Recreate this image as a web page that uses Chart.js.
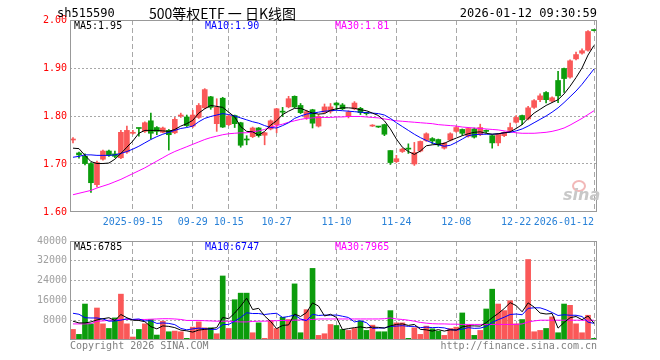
<!DOCTYPE html>
<html>
<head>
<meta charset="utf-8">
<title>sh515590 日K线图</title>
<script src="https://cdn.jsdelivr.net/npm/chart.js@4.4.1/dist/chart.umd.min.js"></script>
<style>
  body { margin: 0; background: #fff; }
  #wrap { position: relative; width: 660px; height: 360px; overflow: hidden;
          font-family: "DejaVu Sans Mono", monospace; font-size: 10px; color: #000; }
  canvas { position: absolute; left: 0; }
  #priceChart { top: 0; }
  #volumeChart { top: 232px; }
  .txt { position: absolute; line-height: 12px; white-space: pre; }
  .head { font-size: 12px; line-height: 14px; }
  .title { font-family: "Noto Sans CJK SC", sans-serif; font-size: 14px; line-height: 18px; }
  .grey { color: #808080; }
  .blue { color: #0000ff; }
  .pink { color: #ff00ff; }
  #logo { position: absolute; left: 563px; top: 186px; color: #c8c8c8; font-family: "DejaVu Sans", sans-serif;
          font-size: 16px; font-weight: bold; font-style: italic; line-height: 18px; }
  #logoEye { position: absolute; left: 572px; top: 180px; width: 10px; height: 8px; border: 2px solid #f2b8b8;
             border-radius: 50%; }
</style>
</head>
<body>
<div id="wrap">
  <canvas id="priceChart" width="660" height="232"></canvas>
  <canvas id="volumeChart" width="660" height="128"></canvas>

  <div class="txt head" style="left:57px; top:6px;">sh515590</div>
  <div class="txt title" style="left:149px; top:4px;">500等权ETF 一 日K线图</div>
  <div class="txt head" style="right:63px; top:6px;">2026-01-12 09:30:59</div>

  <div class="txt" style="left:74px; top:20px;" id="ma5Label"></div>
  <div class="txt blue" style="left:205px; top:20px;" id="ma10Label"></div>
  <div class="txt pink" style="left:335px; top:20px;" id="ma30Label"></div>

  <div class="txt" style="left:74px; top:241px;" id="vma5Label"></div>
  <div class="txt blue" style="left:205px; top:241px;" id="vma10Label"></div>
  <div class="txt pink" style="left:335px; top:241px;" id="vma30Label"></div>

  <div id="logoEye"></div>
  <div id="logo">sina</div>

  <div class="txt grey" style="left:70px; top:340px;">Copyright 2026 SINA.COM</div>
  <div class="txt grey" style="right:63px; top:340px;">http://finance.sina.com.cn</div>
</div>

<script>
const dates = [
  "2025-09-01", "2025-09-02", "2025-09-03", "2025-09-04", "2025-09-05", "2025-09-08", "2025-09-09", "2025-09-10", "2025-09-11", "2025-09-12",
  "2025-09-15", "2025-09-16", "2025-09-17", "2025-09-18", "2025-09-19", "2025-09-22", "2025-09-23", "2025-09-24", "2025-09-25", "2025-09-26",
  "2025-09-29", "2025-09-30", "2025-10-09", "2025-10-10", "2025-10-13", "2025-10-14", "2025-10-15", "2025-10-16", "2025-10-17", "2025-10-20",
  "2025-10-21", "2025-10-22", "2025-10-23", "2025-10-24", "2025-10-27", "2025-10-28", "2025-10-29", "2025-10-30", "2025-10-31", "2025-11-03",
  "2025-11-04", "2025-11-05", "2025-11-06", "2025-11-07", "2025-11-10", "2025-11-11", "2025-11-12", "2025-11-13", "2025-11-14", "2025-11-17",
  "2025-11-18", "2025-11-19", "2025-11-20", "2025-11-21", "2025-11-24", "2025-11-25", "2025-11-26", "2025-11-27", "2025-11-28", "2025-12-01",
  "2025-12-02", "2025-12-03", "2025-12-04", "2025-12-05", "2025-12-08", "2025-12-09", "2025-12-10", "2025-12-11", "2025-12-12", "2025-12-15",
  "2025-12-16", "2025-12-17", "2025-12-18", "2025-12-19", "2025-12-22", "2025-12-23", "2025-12-24", "2025-12-25", "2025-12-26", "2025-12-29",
  "2025-12-30", "2025-12-31", "2026-01-05", "2026-01-06", "2026-01-07", "2026-01-08", "2026-01-09", "2026-01-12"
];

const tickDates = ["2025-09-15", "2025-09-29", "2025-10-15", "2025-10-27", "2025-11-10", "2025-11-24", "2025-12-08", "2025-12-22", "2026-01-12"];
const tickTexts = ["2025-09-15", "09-29", "10-15", "10-27", "11-10", "11-24", "12-08", "12-22", "2026-01-12"];

const open = [
  1.750, 1.723, 1.716, 1.701, 1.657, 1.710, 1.727, 1.721, 1.713, 1.725,
  1.764, 1.775, 1.768, 1.790, 1.776, 1.766, 1.770, 1.765, 1.800, 1.798,
  1.779, 1.797, 1.817, 1.840, 1.784, 1.837, 1.782, 1.801, 1.786, 1.751,
  1.757, 1.775, 1.760, 1.773, 1.782, 1.809, 1.819, 1.841, 1.822, 1.797,
  1.813, 1.779, 1.808, 1.810, 1.827, 1.823, 1.799, 1.815, 1.816, 1.806,
  1.779, 1.778, 1.782, 1.728, 1.705, 1.726, 1.732, 1.700, 1.727, 1.749,
  1.753, 1.751, 1.733, 1.750, 1.768, 1.772, 1.758, 1.773, 1.761, 1.769,
  1.759, 1.744, 1.759, 1.770, 1.787, 1.801, 1.794, 1.818, 1.834, 1.849,
  1.831, 1.874, 1.899, 1.881, 1.919, 1.931, 1.937, 1.979
];
const high = [
  1.755, 1.725, 1.721, 1.703, 1.706, 1.729, 1.729, 1.727, 1.770, 1.779,
  1.770, 1.775, 1.788, 1.806, 1.778, 1.777, 1.772, 1.797, 1.806, 1.802,
  1.812, 1.826, 1.857, 1.841, 1.836, 1.839, 1.802, 1.802, 1.787, 1.759,
  1.777, 1.776, 1.766, 1.792, 1.816, 1.818, 1.841, 1.842, 1.826, 1.812,
  1.814, 1.803, 1.825, 1.826, 1.828, 1.826, 1.811, 1.830, 1.818, 1.808,
  1.782, 1.778, 1.783, 1.728, 1.718, 1.733, 1.742, 1.745, 1.748, 1.765,
  1.755, 1.752, 1.745, 1.765, 1.779, 1.773, 1.776, 1.775, 1.783, 1.771,
  1.760, 1.763, 1.767, 1.785, 1.801, 1.802, 1.820, 1.834, 1.846, 1.851,
  1.840, 1.893, 1.900, 1.917, 1.933, 1.940, 1.978, 1.979
];
const low = [
  1.744, 1.712, 1.698, 1.641, 1.652, 1.708, 1.716, 1.713, 1.711, 1.722,
  1.762, 1.758, 1.766, 1.752, 1.761, 1.765, 1.729, 1.763, 1.797, 1.778,
  1.776, 1.795, 1.815, 1.814, 1.768, 1.776, 1.780, 1.776, 1.735, 1.740,
  1.755, 1.756, 1.740, 1.771, 1.765, 1.799, 1.817, 1.817, 1.805, 1.793,
  1.775, 1.777, 1.806, 1.806, 1.813, 1.813, 1.796, 1.813, 1.803, 1.802,
  1.778, 1.776, 1.759, 1.699, 1.703, 1.724, 1.722, 1.697, 1.725, 1.747,
  1.742, 1.737, 1.731, 1.748, 1.766, 1.760, 1.756, 1.754, 1.759, 1.765,
  1.733, 1.738, 1.757, 1.768, 1.785, 1.782, 1.792, 1.816, 1.830, 1.827,
  1.829, 1.828, 1.849, 1.879, 1.917, 1.929, 1.935, 1.977
];
const close = [
  1.751, 1.719, 1.701, 1.661, 1.703, 1.727, 1.718, 1.716, 1.766, 1.770,
  1.765, 1.774, 1.786, 1.764, 1.768, 1.775, 1.761, 1.793, 1.801, 1.780,
  1.802, 1.822, 1.855, 1.818, 1.818, 1.777, 1.800, 1.784, 1.739, 1.750,
  1.775, 1.759, 1.765, 1.790, 1.815, 1.808, 1.836, 1.819, 1.807, 1.809,
  1.785, 1.799, 1.819, 1.819, 1.823, 1.815, 1.808, 1.827, 1.807, 1.805,
  1.780, 1.777, 1.762, 1.703, 1.711, 1.731, 1.731, 1.724, 1.747, 1.763,
  1.748, 1.740, 1.743, 1.763, 1.776, 1.764, 1.774, 1.756, 1.776, 1.768,
  1.744, 1.762, 1.766, 1.776, 1.797, 1.792, 1.817, 1.832, 1.842, 1.834,
  1.838, 1.842, 1.878, 1.915, 1.928, 1.936, 1.976, 1.978
];

const ma5 = [
  1.733, 1.732, 1.718, 1.705, 1.701, 1.701, 1.702, 1.710, 1.722, 1.735,
  1.748, 1.764, 1.770, 1.770, 1.770, 1.769, 1.768, 1.772, 1.779, 1.784,
  1.791, 1.806, 1.815, 1.822, 1.820, 1.818, 1.808, 1.798, 1.778, 1.768,
  1.767, 1.760, 1.768, 1.781, 1.790, 1.803, 1.810, 1.816, 1.816, 1.811,
  1.806, 1.804, 1.805, 1.812, 1.815, 1.817, 1.817, 1.816, 1.813, 1.811,
  1.806, 1.801, 1.790, 1.773, 1.752, 1.735, 1.726, 1.720, 1.727, 1.738,
  1.740, 1.741, 1.743, 1.749, 1.754, 1.759, 1.763, 1.766, 1.767, 1.764,
  1.762, 1.763, 1.765, 1.767, 1.774, 1.782, 1.795, 1.806, 1.814, 1.822,
  1.828, 1.834, 1.846, 1.862, 1.880, 1.900, 1.927, 1.947
];
const ma10 = [
  1.714, 1.716, 1.719, 1.719, 1.718, 1.718, 1.718, 1.719, 1.722, 1.726,
  1.731, 1.737, 1.744, 1.751, 1.757, 1.762, 1.766, 1.770, 1.774, 1.776,
  1.779, 1.788, 1.795, 1.799, 1.802, 1.805, 1.803, 1.800, 1.796, 1.792,
  1.788, 1.785, 1.780, 1.776, 1.775, 1.780, 1.786, 1.795, 1.800, 1.804,
  1.806, 1.808, 1.810, 1.811, 1.812, 1.811, 1.810, 1.809, 1.808, 1.807,
  1.806, 1.805, 1.802, 1.795, 1.786, 1.778, 1.770, 1.762, 1.755, 1.749,
  1.744, 1.740, 1.737, 1.739, 1.745, 1.752, 1.759, 1.761, 1.762, 1.762,
  1.762, 1.763, 1.765, 1.766, 1.769, 1.773, 1.779, 1.786, 1.793, 1.800,
  1.808, 1.817, 1.828, 1.840, 1.852, 1.866, 1.882, 1.898
];
const ma30 = [
  1.636, 1.639, 1.642, 1.645, 1.650, 1.654, 1.658, 1.663, 1.668, 1.674,
  1.680, 1.686, 1.692, 1.699, 1.706, 1.713, 1.720, 1.726, 1.731, 1.736,
  1.741, 1.746, 1.751, 1.755, 1.758, 1.761, 1.763, 1.764, 1.765, 1.765,
  1.767, 1.769, 1.772, 1.776, 1.780, 1.783, 1.787, 1.790, 1.793, 1.795,
  1.796, 1.797, 1.797, 1.797, 1.798, 1.798, 1.799, 1.799, 1.799, 1.798,
  1.797, 1.796, 1.794, 1.792, 1.790, 1.789, 1.788, 1.787, 1.786, 1.785,
  1.784, 1.782, 1.781, 1.780, 1.779, 1.777, 1.776, 1.775, 1.774, 1.773,
  1.772, 1.771, 1.769, 1.767, 1.765, 1.764, 1.764, 1.764, 1.765, 1.766,
  1.768, 1.771, 1.775, 1.781, 1.788, 1.795, 1.803, 1.811
];

const volume = [
  4270, 2270, 14530, 6530, 12930, 6530, 4670, 8930, 18530, 6530,
  1200, 4270, 6530, 8270, 2000, 7600, 3330, 3600, 3330, 670,
  5200, 7330, 4930, 4930, 2530, 25870, 4670, 16270, 18930, 18930,
  2930, 6930, 670, 7870, 4670, 9200, 8270, 22670, 2930, 12270,
  28930, 1870, 2530, 6270, 5870, 4270, 3870, 4670, 7600, 3870,
  6000, 3330, 3330, 11870, 6930, 6930, 670, 4930, 2270, 5600,
  4530, 3600, 1870, 4670, 5200, 10930, 6000, 1870, 3870, 12530,
  20530, 14530, 11870, 15870, 6530, 8270, 32530, 3330, 3870, 4670,
  9330, 2930, 14530, 14000, 6530, 2930, 10000, 670
];
const volMa5 = [
  7600, 6900, 6900, 7300, 8100, 8600, 9000, 7900, 10300, 9000,
  8000, 7900, 7400, 5400, 4500, 5700, 5500, 5000, 4000, 3700,
  3200, 4000, 4300, 4600, 5000, 9100, 8600, 10900, 13700, 16900,
  12300, 12800, 9700, 7500, 4600, 5900, 6100, 10500, 9500, 11100,
  15000, 13700, 9700, 10400, 9100, 4200, 4600, 5000, 5300, 4900,
  5200, 5100, 4800, 5700, 6300, 6500, 5900, 6300, 4300, 4100,
  3600, 4200, 3600, 4100, 4000, 5300, 5700, 5700, 5600, 7000,
  9000, 10700, 12700, 15100, 13900, 11400, 15000, 13300, 10900, 10500,
  10700, 4800, 7100, 9000, 9500, 8200, 9700, 6785
];
const volMa10 = [
  10800, 10400, 9000, 8900, 8900, 8500, 7600, 7700, 8000, 8600,
  8300, 8500, 7700, 7800, 6700, 6900, 6700, 6200, 4700, 4100,
  4500, 4800, 4600, 4300, 4300, 6200, 6300, 7600, 9100, 11000,
  10700, 10700, 10300, 10600, 10800, 9100, 9500, 10100, 8500, 7800,
  10400, 9900, 10100, 10000, 10100, 9600, 9100, 7300, 7800, 7000,
  4700, 4800, 4900, 5500, 5600, 5800, 5500, 5500, 5000, 5200,
  5000, 5100, 4900, 4200, 4000, 4400, 5000, 4700, 4800, 5500,
  7100, 8200, 9200, 10300, 10500, 10200, 12800, 13000, 13000, 12200,
  11100, 9900, 10200, 10000, 10000, 9500, 7200, 6747
];
const volMa30 = [
  6500, 6500, 6500, 6600, 7600, 7700, 8000, 8100, 8300, 8300,
  8300, 8300, 8300, 8400, 8500, 8600, 8600, 8500, 8300, 7900,
  7900, 7900, 7800, 7700, 7600, 7600, 7600, 7400, 7300, 7300,
  7500, 7600, 7600, 7700, 7800, 7900, 7900, 8000, 8100, 8200,
  8300, 8500, 8500, 8500, 8500, 8500, 8500, 8500, 8500, 8500,
  8500, 8500, 8600, 8900, 8500, 8300, 8000, 7600, 7100, 6800,
  6600, 6500, 6500, 6400, 6400, 6300, 6300, 6300, 6300, 6300,
  6300, 6300, 6300, 6300, 6300, 6500, 7300, 7700, 8000, 8000,
  8000, 8000, 8000, 8000, 8000, 8000, 8000, 7965
];

const RED = "#fa5858";
const GREEN = "#0c9c0c";
const GRID = "#a8a8a8";
const FRAME = "#999999";
const MONO = "DejaVu Sans Mono";

const candleColor = close.map((c, i) => (c >= open[i] ? RED : GREEN));
const last = dates.length - 1;

document.querySelector("#ma5Label").textContent = `MA5:${ma5[last].toFixed(2)}`;
document.querySelector("#ma10Label").textContent = `MA10:${ma10[last].toFixed(2)}`;
document.querySelector("#ma30Label").textContent = `MA30:${ma30[last].toFixed(2)}`;
document.querySelector("#vma5Label").textContent = `MA5:${volMa5[last]}`;
document.querySelector("#vma10Label").textContent = `MA10:${volMa10[last]}`;
document.querySelector("#vma30Label").textContent = `MA30:${volMa30[last]}`;

function isTickDate(index) {
  return tickDates.includes(dates[index]);
}

// plot frame drawn on top of everything
const framePlugin = {
  id: "frame",
  afterDraw(chart) {
    const { ctx, chartArea: a } = chart;
    ctx.save();
    ctx.strokeStyle = FRAME;
    ctx.lineWidth = 1;
    ctx.strokeRect(Math.round(a.left) + 0.5, Math.round(a.top) + 0.5,
      Math.round(a.right - a.left) - 1, Math.round(a.bottom - a.top) - 1);
    ctx.restore();
  }
};

function maLine(data, color) {
  return {
    type: "line",
    data,
    borderColor: color,
    borderWidth: 1,
    pointRadius: 0,
    tension: 0,
    order: 0
  };
}

function xScale(showLabels) {
  return {
    type: "category",
    offset: true,
    grid: {
      offset: false,
      drawTicks: false,
      lineWidth: 1,
      color: (ctx) => (isTickDate(ctx.index) ? GRID : "rgba(0,0,0,0)")
    },
    border: { display: false, dash: [5, 3] },
    ticks: {
      display: showLabels,
      autoSkip: false,
      maxRotation: 0,
      minRotation: 0,
      align: "inner",
      padding: 4,
      color: "#2a82d8",
      font: { family: MONO, size: 10 },
      callback: (value, index) => {
        const k = tickDates.indexOf(dates[index]);
        return k >= 0 ? tickTexts[k] : "";
      }
    },
    afterFit: (scale) => { scale.height = showLabels ? 20 : 0; }
  };
}

new Chart(document.querySelector("#priceChart"), {
  type: "bar",
  data: {
    labels: dates,
    datasets: [
      maLine(ma5, "#000000"),
      maLine(ma10, "#0000ff"),
      maLine(ma30, "#ff00ff"),
      {
        label: "body",
        data: open.map((o, i) => [o, close[i]]),
        backgroundColor: candleColor,
        barThickness: 5,
        minBarLength: 1,
        grouped: false,
        order: 1
      },
      {
        label: "wick",
        data: low.map((l, i) => [l, high[i]]),
        backgroundColor: candleColor,
        barThickness: 1,
        grouped: false,
        order: 2
      }
    ]
  },
  options: {
    responsive: false,
    animation: false,
    events: [],
    layout: { padding: { left: 0, right: 63, top: 20, bottom: 0 } },
    plugins: { legend: { display: false }, tooltip: { enabled: false } },
    scales: {
      x: xScale(true),
      y: {
        min: 1.6,
        max: 2.0,
        grid: {
          drawTicks: false,
          color: (ctx) => {
            const v = Math.round(ctx.tick.value * 100);
            return v > 160 && v < 200 ? GRID : "rgba(0,0,0,0)";
          }
        },
        border: { display: false, dash: [2, 2] },
        ticks: {
          stepSize: 0.1,
          padding: 3,
          color: "#ff0000",
          font: { family: MONO, size: 10 },
          callback: (v) => Number(v).toFixed(2)
        },
        afterFit: (scale) => { scale.width = 70; }
      }
    }
  },
  plugins: [framePlugin]
});

new Chart(document.querySelector("#volumeChart"), {
  type: "bar",
  data: {
    labels: dates,
    datasets: [
      maLine(volMa5, "#000000"),
      maLine(volMa10, "#0000ff"),
      maLine(volMa30, "#ff00ff"),
      {
        label: "volume",
        data: volume,
        backgroundColor: candleColor,
        barThickness: 5,
        grouped: false,
        order: 1
      }
    ]
  },
  options: {
    responsive: false,
    animation: false,
    events: [],
    layout: { padding: { left: 0, right: 63, top: 8, bottom: 20 } },
    plugins: { legend: { display: false }, tooltip: { enabled: false } },
    scales: {
      x: xScale(false),
      y: {
        min: 0,
        max: 40000,
        grid: {
          drawTicks: false,
          color: (ctx) => (ctx.tick.value > 0 && ctx.tick.value < 40000 ? GRID : "rgba(0,0,0,0)")
        },
        border: { display: false, dash: [2, 2] },
        ticks: {
          stepSize: 8000,
          padding: 3,
          color: "#a0a0a0",
          font: { family: MONO, size: 10 },
          callback: (v) => (v === 0 ? "" : String(v))
        },
        afterFit: (scale) => { scale.width = 70; }
      }
    }
  },
  plugins: [framePlugin]
});
</script>
</body>
</html>
